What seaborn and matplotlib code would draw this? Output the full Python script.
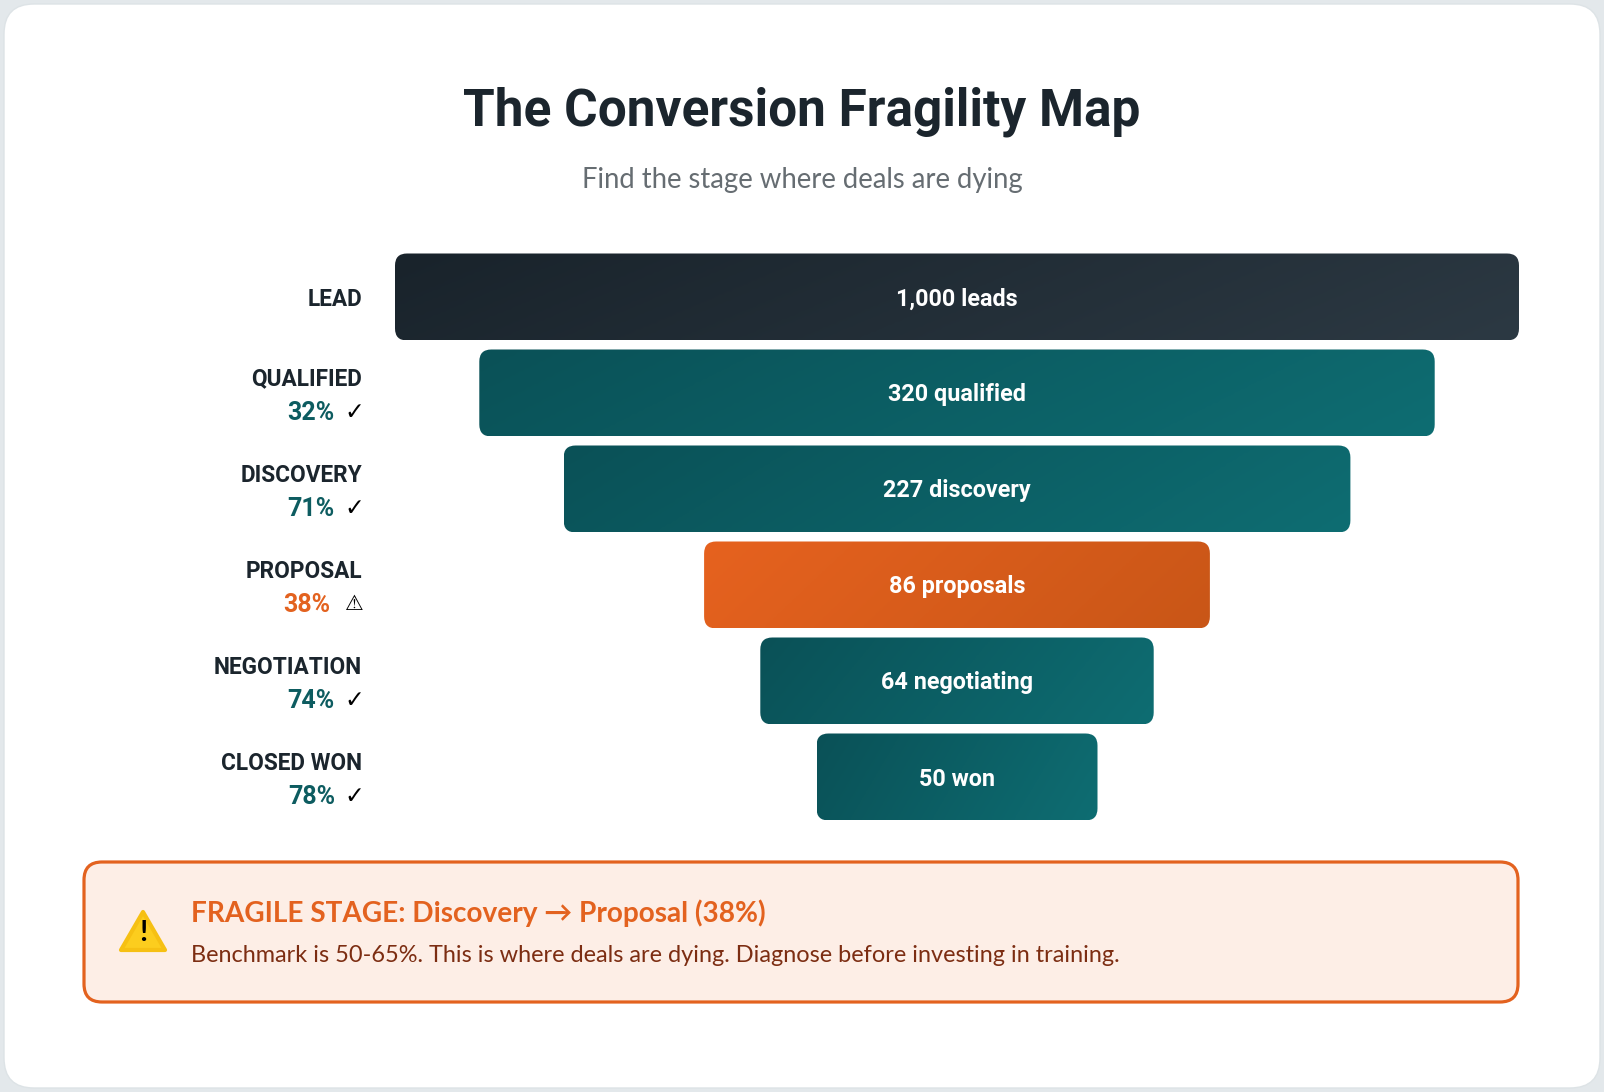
import numpy as np
import pandas as pd
import matplotlib
matplotlib.use("Agg")
import matplotlib.pyplot as plt
import seaborn as sns
from matplotlib.patches import FancyBboxPatch, Polygon
from matplotlib.colors import LinearSegmentedColormap

# funnel data
stages = ["LEAD", "QUALIFIED", "DISCOVERY", "PROPOSAL", "NEGOTIATION", "CLOSED WON"]
counts = [1000, 320, 227, 86, 64, 50]
units = ["leads", "qualified", "discovery", "proposals", "negotiating", "won"]
conv_pct = [None, 32, 71, 38, 74, 78]
bar_width_pct = [100, 85, 70, 45, 35, 25]
fragile_stage = "PROPOSAL"

title = "The Conversion Fragility Map"
subtitle = "Find the stage where deals are dying"
alert_title = "FRAGILE STAGE: Discovery \u2192 Proposal (38%)"
alert_body = "Benchmark is 50-65%. This is where deals are dying. Diagnose before investing in training."

W, H = 1604, 1092
DARK = "#1b252d"
TEAL = "#0d5c60"
ORANGE = "#e3621f"

sns.set_theme(style="white")
plt.rcParams["font.family"] = ["Roboto", "DejaVu Sans"]

fig = plt.figure(figsize=(W / 100, H / 100), dpi=100)
fig.patch.set_facecolor("#e3e8eb")

# background card in pixel coordinates
bg = fig.add_axes([0, 0, 1, 1])
bg.set_xlim(0, W)
bg.set_ylim(H, 0)
bg.axis("off")
bg.add_patch(FancyBboxPatch((4, 4), W - 8, H - 8, boxstyle="round,pad=0,rounding_size=30",
                            fc="white", ec="#dde3e6", lw=1))

bg.text(W / 2, 112, title, ha="center", va="center", fontsize=37, weight="bold", color=DARK)
bg.text(W / 2, 180, subtitle, ha="center", va="center", fontsize=19.8, color="#666d72",
        family=["Lato", "DejaVu Sans"])

# funnel axes: x is % of full width centred on 0, y is the stage
ax_left, ax_right = 395, 1519
row_px = 96
ax_top = 297 - row_px / 2
ax = fig.add_axes([ax_left / W, 1 - (ax_top + 6 * row_px) / H, (ax_right - ax_left) / W, 6 * row_px / H])
ax.patch.set_alpha(0)

df = pd.DataFrame({"stage": stages, "width": bar_width_pct})
sns.barplot(data=df, x="width", y="stage", orient="h", ax=ax, width=87 / 96, color=TEAL)

px_x = (ax_right - ax_left) / 100
aspect = px_x / row_px


def gradient_bar(x0, y0, w, h, c0, c1, r_px=12):
    box = FancyBboxPatch((x0, y0), w, h, boxstyle=f"round,pad=0,rounding_size={r_px / px_x}",
                         mutation_aspect=aspect, fc="none", ec="none")
    ax.add_patch(box)
    gx = np.linspace(0, 1, 300)[None, :]
    gy = np.linspace(0, 1, 30)[:, None]
    t = np.clip(0.85 * gx + 0.15 * gy, 0, 1)
    cmap = LinearSegmentedColormap.from_list("g", [c0, c1])
    im = ax.imshow(t, cmap=cmap, extent=(x0, x0 + w, y0 + h, y0), aspect="auto",
                   origin="upper", interpolation="bilinear", zorder=2)
    im.set_clip_path(box)


bars = list(ax.patches)
for i, p in enumerate(bars):
    w, y0, h = p.get_width(), p.get_y(), p.get_height()
    p.set_visible(False)
    if i == 0:
        c0, c1 = "#19232b", "#2c3943"
    elif stages[i] == fragile_stage:
        c0, c1 = "#e6621f", "#c95617"
    else:
        c0, c1 = "#0a5157", "#0e6d72"
    gradient_bar(-w / 2, y0, w, h, c0, c1)
    yc = y0 + h / 2
    ax.annotate(f"{counts[i]:,} {units[i]}", xy=(0, yc), xytext=(0, -2), textcoords="offset pixels",
                ha="center", va="center", color="white", weight="bold", fontsize=16.8, zorder=3)

    # stage label on the left
    if conv_pct[i] is None:
        ax.annotate(stages[i], xy=(-50, yc), xytext=(-33, -3), textcoords="offset pixels",
                    ha="right", va="center", fontsize=16.3, weight="bold", color=DARK)
        continue
    ax.annotate(stages[i], xy=(-50, yc), xytext=(-33, 14), textcoords="offset pixels",
                ha="right", va="center", fontsize=16.3, weight="bold", color=DARK)
    warn = stages[i] == fragile_stage
    ax.annotate(f"{conv_pct[i]}%", xy=(-50, yc), xytext=(-65 if warn else -60, -20),
                textcoords="offset pixels", ha="right", va="center", fontsize=18,
                weight="bold", color=ORANGE if warn else TEAL)
    ax.annotate("\u26a0" if warn else "\u2713", xy=(-50, yc), xytext=(-41, -19),
                textcoords="offset pixels", ha="center", va="center",
                fontsize=15 if warn else 17, weight="bold", color="black",
                family=["DejaVu Sans"])

ax.set_xlim(-50, 50)
ax.set_ylim(5.5, -0.5)
ax.axis("off")

# alert box
bg.add_patch(FancyBboxPatch((84, 862), 1434, 140, boxstyle="round,pad=0,rounding_size=18",
                            fc="#fdeee6", ec=ORANGE, lw=2.3))
bg.add_patch(Polygon([(143, 912), (121, 950), (165, 950)], closed=True, fc="#fccd1e",
                     ec="#f6c013", lw=3, joinstyle="round"))
bg.text(143, 933, "!", ha="center", va="center", fontsize=21, weight="bold", color="black",
        family=["Lato", "DejaVu Sans"])
bg.text(191, 913, alert_title, ha="left", va="center", fontsize=20.2, weight="bold",
        color=ORANGE, family=["Lato", "DejaVu Sans"])
bg.text(191, 955, alert_body, ha="left", va="center", fontsize=16.9, color="#7c2d12",
        family=["Lato", "DejaVu Sans"])

fig.savefig("out.png", dpi=100, facecolor=fig.get_facecolor())
